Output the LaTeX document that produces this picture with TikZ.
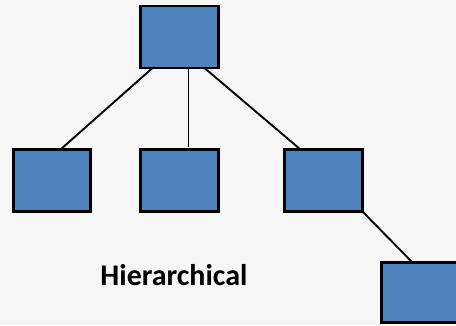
\documentclass[tikz,border=0pt]{standalone}
\usepackage{fontspec}
\setmainfont{Carlito}
\usetikzlibrary{calc}
\definecolor{bgc}{RGB}{246,246,246}
\definecolor{boxblue}{RGB}{79,129,189}
\begin{document}
\begin{tikzpicture}[x=1pt,y=-1pt,
  box/.style={draw=black,fill=boxblue,line width=2.6pt,minimum width=78pt,minimum height=62pt,inner sep=0pt,outer sep=0pt},
  link/.style={draw=black,line width=1.9pt}]
\clip (0,0) rectangle (456,325);
\fill[bgc] (0,0) rectangle (456,325);
\node[box] (top) at (179.5,37) {};
\node[box,minimum width=77pt] (left) at (52,180.5) {};
\node[box] (mid) at (179.5,180.5) {};
\node[box] (right) at (323.5,180.5) {};
\node[box,minimum height=60pt] (bot) at (420.5,292.5) {};
\draw[link] ($(top.south west)+(12,0)$) -- ($(left.north west)+(47,0)$);
\draw[link] ($(top.south west)+(48,0)$) -- ($(mid.north west)+(48,-3)$);
\draw[link] ($(top.south west)+(64,0)$) -- ($(right.north west)+(16,0)$);
\draw[link] (right.south east) -- ($(bot.north west)+(31,0)$);
\node[font=\bfseries\fontsize{30}{34}\selectfont,anchor=base] (lbl) at (174,285) {Hierarchical};
\end{tikzpicture}
\end{document}
